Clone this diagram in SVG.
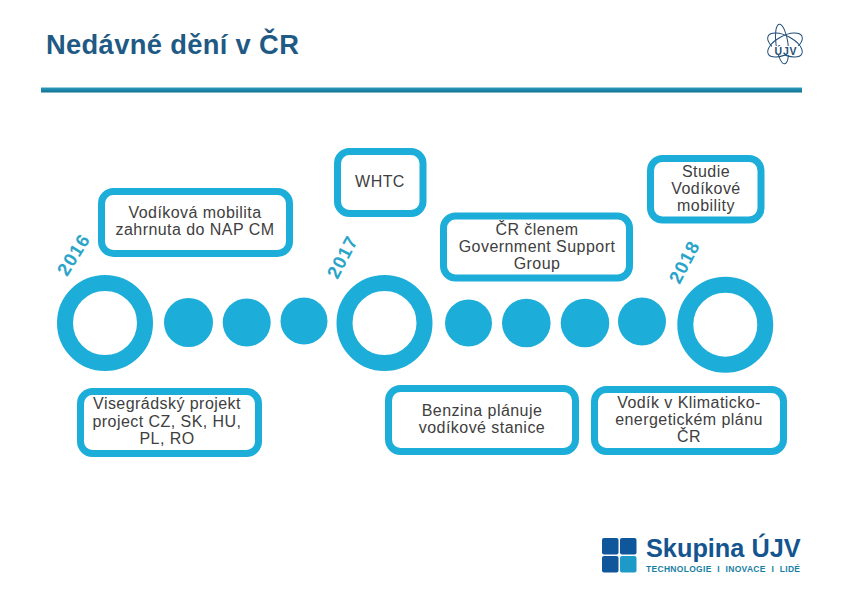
<svg xmlns="http://www.w3.org/2000/svg" width="842" height="595" viewBox="0 0 842 595">
<style>
text{font-family:"Liberation Sans",Arial,sans-serif}
.box{fill:#fff;stroke:#1cadd9;stroke-width:7}
.t{font-size:16px;fill:#404040;text-anchor:middle;letter-spacing:.45px}
.dot{fill:#1cadd9}
.ring{fill:#fff;stroke:#1cadd9;stroke-width:16}
.yr{font-size:18.500px;font-weight:bold;fill:#2aa5c9;text-anchor:middle;letter-spacing:1px}
</style>
<defs>
<linearGradient id="rule" x1="0" y1="0" x2="0" y2="1"><stop offset="0" stop-color="#2a9cc0"/><stop offset="1" stop-color="#0f6f8f"/></linearGradient>
</defs>
<rect width="842" height="595" fill="#fff"/>
<text x="46" y="54" font-size="27.300" font-weight="bold" fill="#1f5a85" style="letter-spacing:.35px">Nedávné dění v ČR</text>
<rect x="41" y="87.500" width="761" height="5" fill="url(#rule)"/>
<g id="logo-ujv" fill="none" stroke="#1f4e79" stroke-width="1">
<ellipse cx="782" cy="44" rx="6" ry="20" transform="rotate(-8 782 44)"/>
<ellipse cx="785" cy="45" rx="19" ry="9" transform="rotate(28 785 45)"/>
<ellipse cx="785" cy="45" rx="19" ry="9" transform="rotate(-28 785 45)"/>
<rect x="772" y="46" width="28" height="9" fill="#fff" stroke="none"/>
<text x="786" y="54.500" font-size="10.500" font-weight="bold" fill="#1f4e79" stroke="none" text-anchor="middle" style="letter-spacing:.8px">ÚJV</text>
</g>
<g id="timeline-dots">
<circle class="dot" cx="188.500" cy="322.500" r="24.500"/>
<circle class="dot" cx="246.700" cy="322.500" r="24"/>
<circle class="dot" cx="304" cy="321" r="23.500"/>
<circle class="dot" cx="468.500" cy="323" r="23.500"/>
<circle class="dot" cx="526.300" cy="323" r="24.300"/>
<circle class="dot" cx="585" cy="323" r="24.300"/>
<circle class="dot" cx="642" cy="321.500" r="24"/>
</g>
<g id="y2016"><circle class="ring" cx="105" cy="323" r="40"/><text class="yr" transform="translate(79 258) rotate(-58)">2016</text></g>
<g id="y2017"><circle class="ring" cx="384.500" cy="323" r="40"/><text class="yr" transform="translate(348 260) rotate(-62)">2017</text></g>
<g id="y2018"><circle class="ring" cx="725.300" cy="324.700" r="40"/><text class="yr" transform="translate(690 265) rotate(-62)">2018</text></g>
<g id="n1"><rect class="box" x="101.500" y="191.500" width="188" height="62" rx="12"/><text class="t" x="195" y="218">Vodíková mobilita</text><text class="t" x="195" y="235">zahrnuta do NAP CM</text></g>
<g id="n2"><rect class="box" x="337.500" y="151.500" width="85.500" height="62" rx="12"/><text class="t" x="380" y="187">WHTC</text></g>
<g id="n3"><rect class="box" x="443.500" y="216" width="186" height="62" rx="12"/><text class="t" x="537" y="235">ČR členem</text><text class="t" x="537" y="252">Government Support</text><text class="t" x="537" y="269">Group</text></g>
<g id="n4"><rect class="box" x="650.500" y="158.500" width="110.500" height="61.500" rx="12"/><text class="t" x="706" y="177">Studie</text><text class="t" x="706" y="194">Vodíkové</text><text class="t" x="706" y="211">mobility</text></g>
<g id="n5"><rect class="box" x="80.500" y="391.500" width="178" height="62" rx="12"/><text class="t" x="167" y="409">Visegrádský projekt</text><text class="t" x="167" y="427">project CZ, SK, HU,</text><text class="t" x="167" y="444">PL, RO</text></g>
<g id="n6"><rect class="box" x="388.500" y="388.500" width="187" height="63" rx="12"/><text class="t" x="482" y="416">Benzina plánuje</text><text class="t" x="482" y="433">vodíkové stanice</text></g>
<g id="n7"><rect class="box" x="594.500" y="389.500" width="189" height="62" rx="12"/><text class="t" x="689" y="408">Vodík v Klimaticko-</text><text class="t" x="689" y="425">energetickém plánu</text><text class="t" x="689" y="442">ČR</text></g>
<g id="logo-skupina">
<rect x="602" y="538" width="16.500" height="16.500" rx="2" fill="#10569b"/>
<rect x="620" y="538" width="16.500" height="16.500" rx="2" fill="#10569b"/>
<rect x="602" y="556" width="16.500" height="16.500" rx="2" fill="#10569b"/>
<rect x="620" y="556" width="16.500" height="16.500" rx="2" fill="#1e9ac8"/>
<text x="646" y="557" font-size="25.300" font-weight="bold" fill="#14558f">Skupina ÚJV</text>
<text x="646" y="572" font-size="8.500" font-weight="bold" fill="#1b7fa3" style="word-spacing:3px" textLength="154" lengthAdjust="spacing">TECHNOLOGIE I INOVACE I LIDÉ</text>
</g>
</svg>
